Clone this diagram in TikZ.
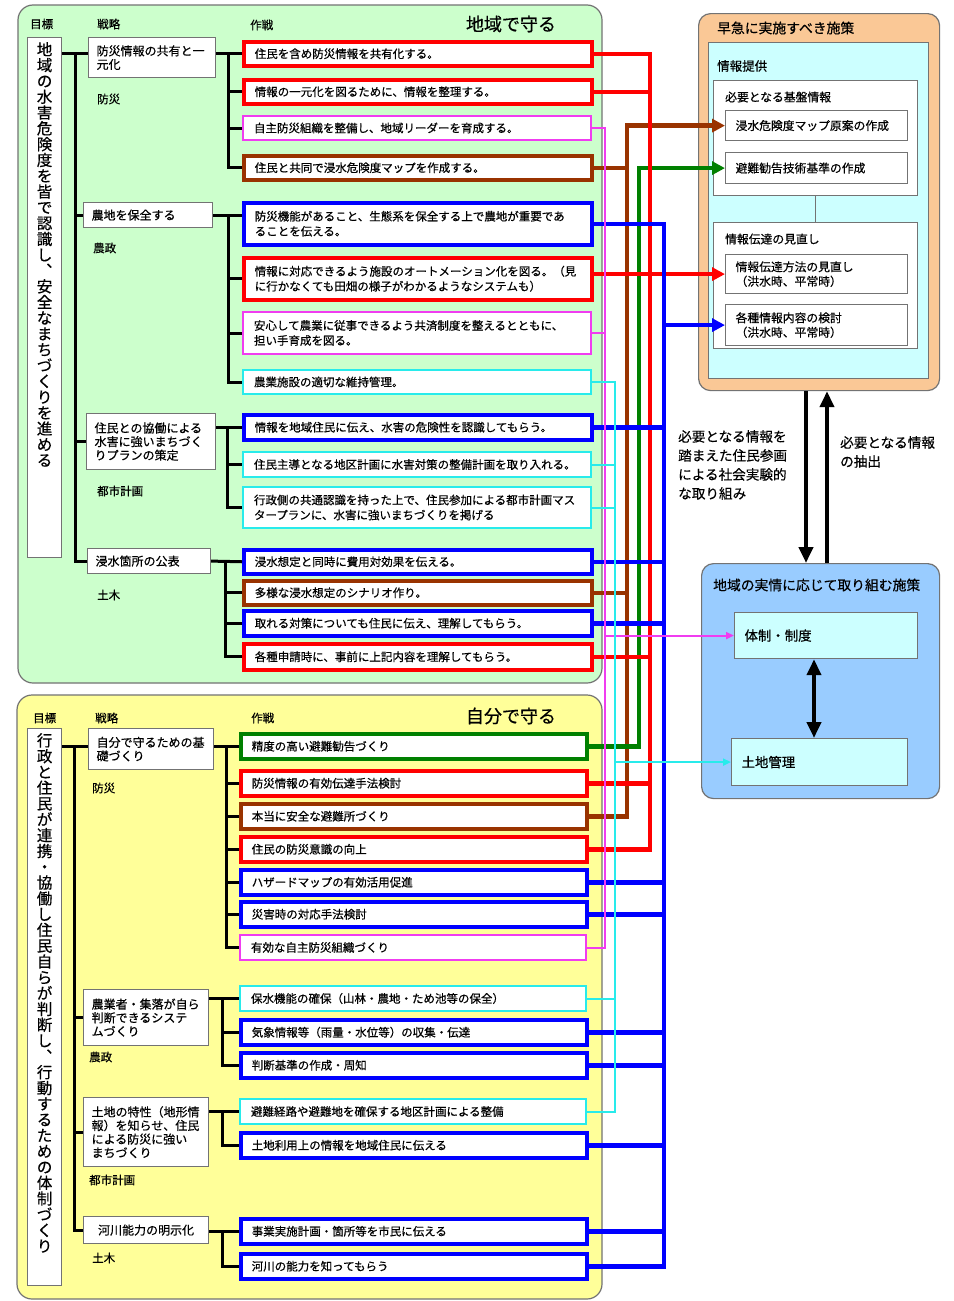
\documentclass[tikz,border=0pt]{standalone}
\usepackage{fontspec}
\setmainfont{Noto Sans CJK JP}[FakeBold=0.5]
\usetikzlibrary{arrows.meta}
\definecolor{pgreen}{RGB}{204,255,204}
\definecolor{pyellow}{RGB}{255,255,153}
\definecolor{porange}{RGB}{250,200,150}
\definecolor{plcyan}{RGB}{204,255,255}
\definecolor{pblue}{RGB}{153,204,255}
\definecolor{cred}{RGB}{255,0,0}
\definecolor{cblue}{RGB}{0,0,255}
\definecolor{cbrown}{RGB}{153,51,0}
\definecolor{cgreen}{RGB}{0,128,0}
\definecolor{cmag}{RGB}{240,60,240}
\definecolor{ccyan}{RGB}{40,235,235}
\definecolor{gline}{RGB}{115,115,115}
\newcommand\jtask{\fontsize{11.5}{15}\selectfont}
\newcommand\jstrat{\fontsize{12}{13.6}\selectfont}
\newcommand\jlab{\fontsize{11.5}{13}\selectfont}
\newcommand\jbig{\fontsize{18}{20}\selectfont}
\newcommand\jvert{\fontsize{15.5}{15.8}\selectfont}
\newcommand\jrt{\fontsize{13.8}{16}\selectfont}
\newcommand\jrs{\fontsize{11.8}{14.5}\selectfont}
\newcommand\jmid{\fontsize{13.6}{19}\selectfont}
\begin{document}
\begin{tikzpicture}[x=1pt,y=-1pt,
  panel/.style={draw=gline, line width=1.2pt, rounded corners=15pt},
  hdr/.style={anchor=west, inner sep=0pt, font=\jlab},
  lab/.style={anchor=west, inner sep=0pt, font=\jlab},
  goalbox/.style={draw=gline, fill=white, line width=1.2pt, anchor=north west, minimum width=34pt, inner sep=0pt},
  vtxt/.style={anchor=north, align=center, inner sep=0pt, font=\jvert},
  strat/.style={draw=gline, fill=white, line width=1.2pt, anchor=north west, align=left, inner xsep=8pt, inner ysep=0pt, font=\jstrat},
  task/.style={fill=white, anchor=north west, minimum width=348pt, text width=326pt, inner xsep=11pt, inner ysep=0pt, minimum height=24pt, align=left, font=\jtask},
  ltask/.style={task, minimum width=346pt, text width=324pt, minimum height=25pt},
  cR/.style={draw=cred, line width=3.5pt},
  cB/.style={draw=cblue, line width=3.5pt},
  cBr/.style={draw=cbrown, line width=3.5pt},
  cG/.style={draw=cgreen, line width=3.5pt},
  cM/.style={draw=cmag, line width=2pt},
  cC/.style={draw=ccyan, line width=2pt},
  tree/.style={draw=black, line width=3pt},
  busR/.style={draw=cred, line width=4.5pt},
  busB/.style={draw=cblue, line width=4.5pt},
  busBr/.style={draw=cbrown, line width=4.5pt},
  busG/.style={draw=cgreen, line width=4.5pt},
  busM/.style={draw=cmag, line width=2pt},
  busC/.style={draw=ccyan, line width=2pt},
  tipL/.style={-{Triangle[length=13pt,width=13pt]}},
  tipS/.style={-{Triangle[length=8pt,width=7pt]}},
  rbox/.style={draw=gline, line width=1.2pt, anchor=north west, inner sep=0pt},
  sbox/.style={draw=gline, fill=white, line width=1.2pt, anchor=north west, align=left, inner xsep=10pt, inner ysep=0pt, font=\jrs},
  rtxt/.style={anchor=west, inner sep=0pt},
  bigarr/.style={draw=black, line width=4pt, -{Triangle[length=16pt,width=14pt]}},
  dblarr/.style={draw=black, line width=4pt, {Triangle[length=16pt,width=14pt]}-{Triangle[length=16pt,width=14pt]}}
]
\fill[white] (0,0) rectangle (953,1301);
\useasboundingbox (0,0) rectangle (953,1301);

% panels
\draw[panel, fill=pgreen] (18,5) rectangle (602,683);
\draw[panel, fill=pyellow] (17,695) rectangle (602,1299);

% headers upper
\node[hdr] (h1) at (30,24) {目標};
\node[hdr] (h2) at (97,24) {戦略};
\node[hdr] (h3) at (250,25) {作戦};
\node[anchor=center, inner sep=0pt, font=\jbig] (h4) at (511,24) {地域で守る};
% headers lower
\node[hdr] (h5) at (33,718) {目標};
\node[hdr] (h6) at (95,718) {戦略};
\node[hdr] (h7) at (251,718) {作戦};
\node[anchor=center, inner sep=0pt, font=\jbig] (h8) at (511,716) {自分で守る};

% goal boxes
\node[goalbox, minimum height=520pt] (G1) at (27,37) {};
\node[vtxt] (G1t) at ([yshift=-5pt]G1.north) {地\\域\\の\\水\\害\\危\\険\\度\\を\\皆\\で\\認\\識\\し\\︑\\安\\全\\な\\ま\\ち\\づ\\く\\り\\を\\進\\め\\る};
\node[goalbox, minimum height=557pt] (G2) at (27,728) {};
\node[vtxt] (G2t) at ([yshift=-5pt]G2.north) {行\\政\\と\\住\\民\\が\\連\\携\\・\\協\\働\\し\\住\\民\\自\\ら\\が\\判\\断\\し\\︑\\行\\動\\す\\る\\た\\め\\の\\体\\制\\づ\\く\\り};

% strategy boxes upper
\node[strat, minimum width=127pt, text width=111pt, minimum height=40pt] (S1) at (88,37) {防災情報の共有と一\\元化};
\node[strat, minimum width=129pt, text width=113pt, minimum height=25pt] (S2) at (83,202) {農地を保全する};
\node[strat, minimum width=129pt, text width=113pt, minimum height=56pt] (S3) at (86,413) {住民との協働による\\水害に強いまちづく\\りプランの策定};
\node[strat, minimum width=123pt, text width=107pt, minimum height=25pt] (S4) at (87,548) {浸水箇所の公表};
\node[lab] (l1) at (97,99) {防災};
\node[lab] (l2) at (93,248) {農政};
\node[lab] (l3) at (97,491) {都市計画};
\node[lab] (l4) at (97,595) {土木};

% strategy boxes lower
\node[strat, minimum width=125pt, text width=109pt, minimum height=41pt] (S1L) at (88,728) {自分で守るための基\\礎づくり};
\node[strat, minimum width=125pt, text width=109pt, minimum height=56pt] (S2L) at (83,989) {農業者・集落が自ら\\判断できるシステ\\ムづくり};
\node[strat, minimum width=125pt, text width=109pt, minimum height=69pt] (S3L) at (83,1097) {土地の特性（地形情\\報）を知らせ、住民\\による防災に強い\\まちづくり};
\node[strat, minimum width=125pt, text width=109pt, minimum height=27pt, align=center] (S4L) at (83,1216) {河川能力の明示化};
\node[lab] (l5) at (92,788) {防災};
\node[lab] (l6) at (89,1057) {農政};
\node[lab] (l7) at (89,1180) {都市計画};
\node[lab] (l8) at (92,1258) {土木};

% tasks upper
\node[task, cR] (t1) at (242,40) {住民を含め防災情報を共有化する。};
\node[task, cR] (t2) at (242,78) {情報の一元化を図るために、情報を整理する。};
\node[task, cM] (t3) at (242,115) {自主防災組織を整備し、地域リーダーを育成する。};
\node[task, cBr] (t4) at (242,154) {住民と共同で浸水危険度マップを作成する。};
\node[task, cB, minimum height=42pt] (t5) at (242,201) {防災機能があること、生態系を保全する上で農地が重要であ\\ることを伝える。};
\node[task, cR, minimum height=42pt] (t6) at (242,256) {情報に対応できるよう施設のオートメーション化を図る。（見\\に行かなくても田畑の様子がわかるようなシステムも）};
\node[task, cM, minimum height=42pt] (t7) at (242,311) {安心して農業に従事できるよう共済制度を整えるとともに、\\担い手育成を図る。};
\node[task, cC] (t8) at (242,369) {農業施設の適切な維持管理。};
\node[task, cB, minimum height=25pt] (t9) at (242,413) {情報を地域住民に伝え、水害の危険性を認識してもらう。};
\node[task, cC, minimum height=25pt] (t10) at (242,451) {住民主導となる地区計画に水害対策の整備計画を取り入れる。};
\node[task, cC, minimum height=41pt] (t11) at (242,486) {行政側の共通認識を持った上で、住民参加による都市計画マス\\タープランに、水害に強いまちづくりを掲げる};
\node[task, cB] (t12) at (242,548) {浸水想定と同時に費用対効果を伝える。};
\node[task, cBr] (t13) at (242,579) {多様な浸水想定のシナリオ作り。};
\node[task, cB, minimum height=25pt] (t14) at (242,609) {取れる対策についても住民に伝え、理解してもらう。};
\node[task, cR, minimum height=26pt] (t15) at (242,642) {各種申請時に、事前に上記内容を理解してもらう。};

% tasks lower
\node[ltask, cG] (L1) at (239,732) {精度の高い避難勧告づくり};
\node[ltask, cR] (L2) at (239,769) {防災情報の有効伝達手法検討};
\node[ltask, cBr] (L3) at (239,802) {本当に安全な避難所づくり};
\node[ltask, cR] (L4) at (239,835) {住民の防災意識の向上};
\node[ltask, cB] (L5) at (239,868) {ハザードマップの有効活用促進};
\node[ltask, cB] (L6) at (239,900) {災害時の対応手法検討};
\node[ltask, cM] (L7) at (239,934) {有効な自主防災組織づくり};
\node[ltask, cC] (L8) at (239,985) {保水機能の確保（山林・農地・ため池等の保全）};
\node[ltask, cB] (L9) at (239,1018) {気象情報等（雨量・水位等）の収集・伝達};
\node[ltask, cB] (L10) at (239,1051) {判断基準の作成・周知};
\node[ltask, cC] (L11) at (239,1098) {避難経路や避難地を確保する地区計画による整備};
\node[ltask, cB] (L12) at (239,1131) {土地利用上の情報を地域住民に伝える};
\node[ltask, cB] (L13) at (239,1217) {事業実施計画・箇所等を市民に伝える};
\node[ltask, cB] (L14) at (239,1252) {河川の能力を知ってもらう};

% tree lines upper
\coordinate (k1) at (75,0);
\coordinate (b1) at (228,0);
\coordinate (b2) at (228,0);
\coordinate (b3) at (227,0);
\coordinate (b4) at (225,0);
\draw[tree] (G1.east |- t1.west) -- (S1.west |- t1.west);
\draw[tree] (t1.west -| k1) |- (S4.west);
\draw[tree] (S2.west -| k1) -- (S2.west);
\draw[tree] (S3.west -| k1) -- (S3.west);
\draw[tree] (S1.east |- t1.west) -- (t1.west);
\draw[tree] (t1.west -| b1) |- (t4.west);
\foreach \n in {t2,t3} {\draw[tree] (\n.west -| b1) -- (\n.west);}
\draw[tree] (S2.east) -- (S2.east -| t5.west);
\draw[tree] (S2.east -| b2) |- (t8.west);
\foreach \n in {t6,t7} {\draw[tree] (\n.west -| b2) -- (\n.west);}
\draw[tree] (S3.east |- t9.west) -- (t9.west);
\draw[tree] (t9.west -| b3) |- (t11.west);
\draw[tree] (t10.west -| b3) -- (t10.west);
\draw[tree] (S4.east) -- (t12.west);
\draw[tree] (t12.west -| b4) |- (t15.west);
\foreach \n in {t13,t14} {\draw[tree] (\n.west -| b4) -- (\n.west);}

% tree lines lower
\coordinate (k2) at (74,0);
\coordinate (b5) at (226,0);
\coordinate (b6) at (222,0);
\draw[tree] (G2.east |- L1.west) -- (S1L.west |- L1.west);
\draw[tree] (L1.west -| k2) |- (S4L.west);
\draw[tree] (S2L.west -| k2) -- (S2L.west);
\draw[tree] (S3L.west -| k2) -- (S3L.west);
\draw[tree] (S1L.east |- L1.west) -- (L1.west);
\draw[tree] (L1.west -| b5) |- (L7.west);
\foreach \n in {L2,L3,L4,L5,L6} {\draw[tree] (\n.west -| b5) -- (\n.west);}
\draw[tree] (S2L.east |- L8.west) -- (L8.west);
\draw[tree] (L8.west -| b6) |- (L10.west);
\draw[tree] (L9.west -| b6) -- (L9.west);
\draw[tree] (S3L.east |- L11.west) -- (L11.west);
\draw[tree] (L11.west -| b6) |- (L12.west);
\draw[tree] (S4L.east |- L13.west) -- (L13.west);
\draw[tree] (L13.west -| b6) |- (L14.west);

% right: orange box
\node[rbox, fill=porange, rounded corners=12pt, minimum width=241pt, minimum height=377pt] (OB) at (698,13) {};
\node[rtxt, font=\jrt] (OBt) at (717,28) {早急に実施すべき施策};
\node[rbox, fill=plcyan, minimum width=220pt, minimum height=336pt] (LC) at (708,42) {};
\node[rtxt, font=\fontsize{12.5}{14}\selectfont] (LCt) at (717,66) {情報提供};
\node[rbox, fill=white, minimum width=204pt, minimum height=115pt] (A) at (713,80) {};
\node[rtxt, font=\jrs] (At) at (725,97) {必要となる基盤情報};
\node[sbox, minimum width=182pt, text width=162pt, minimum height=30pt] (A1) at (725,110) {浸水危険度マップ原案の作成};
\node[sbox, minimum width=182pt, text width=162pt, minimum height=31pt] (A2) at (725,152) {避難勧告技術基準の作成};
\node[rbox, fill=white, minimum width=204pt, minimum height=126pt] (B) at (713,222) {};
\node[rtxt, font=\jrs] (Bt) at (725,239) {情報伝達の見直し};
\node[sbox, minimum width=182pt, text width=162pt, minimum height=39pt] (B1) at (725,254) {情報伝達方法の見直し\\（洪水時、平常時）};
\node[sbox, minimum width=182pt, text width=162pt, minimum height=41pt] (B2) at (725,304) {各種情報内容の検討\\（洪水時、平常時）};
\draw[draw=gline, line width=1.5pt] (A.south) -- (B.north);

% middle texts
\node[anchor=north west, align=left, inner sep=0pt, font=\jmid] (ML) at (678,430) {必要となる情報を\\踏まえた住民参画\\による社会実験的\\な取り組み};
\node[anchor=north west, align=left, inner sep=0pt, font=\jmid] (MR) at (840,436) {必要となる情報\\の抽出};

% blue box
\node[rbox, fill=pblue, rounded corners=12pt, minimum width=238pt, minimum height=235pt] (BB) at (701,563) {};
\node[rtxt, font=\jrt] (BBt) at (713,585) {地域の実情に応じて取り組む施策};
\node[sbox, fill=plcyan, minimum width=183pt, text width=163pt, minimum height=46pt, font=\fontsize{13.4}{15}\selectfont] (T1) at (734,612) {体制・制度};
\node[sbox, fill=plcyan, minimum width=176pt, text width=156pt, minimum height=47pt, font=\fontsize{13.4}{15}\selectfont] (T2) at (731,738) {土地管理};

% big arrows
\coordinate (dnx) at (806,0);
\coordinate (upx) at (827,0);
\coordinate (dbx) at (814,0);
\draw[bigarr] (OB.south -| dnx) -- (BB.north -| dnx);
\draw[bigarr] (BB.north -| upx) -- (OB.south -| upx);
\draw[dblarr] (T1.south -| dbx) -- (T2.north -| dbx);

% buses
\coordinate (xM) at (605,0);
\coordinate (xC) at (615,0);
\coordinate (xBr) at (627,0);
\coordinate (xG) at (639,0);
\coordinate (xR) at (650,0);
\coordinate (xB) at (664,0);

\draw[busBr, tipL] (L3.east) -| (A1.west -| xBr) -- (A1.west);
\foreach \n in {t4,t13} {\draw[busBr] (\n.east) -- (\n.east -| xBr);}
\draw[busG, tipL] (L1.east) -| (A2.west -| xG) -- (A2.west);
\draw[busR] (t1.east) -| (L4.east -| xR) -- (L4.east);
\foreach \n in {t2,t15,L2} {\draw[busR] (\n.east) -- (\n.east -| xR);}
\draw[busR, tipL] (B1.west -| t6.east) -- (B1.west);
\draw[busB] (t5.east) -| (L14.east -| xB) -- (L14.east);
\foreach \n in {t9,t12,t14,L5,L6,L9,L10,L12,L13} {\draw[busB] (\n.east) -- (\n.east -| xB);}
\draw[busB, tipL] (B2.west -| xB) -- (B2.west);
\draw[busM] (t3.east) -| (L7.east -| xM) -- (L7.east);
\draw[busM] (t7.east) -- (t7.east -| xM);
\draw[busM, tipS] (T1.west -| xM) -- (T1.west);
\draw[busC] (t8.east) -| (L11.east -| xC) -- (L11.east);
\foreach \n in {t10,t11,L8} {\draw[busC] (\n.east) -- (\n.east -| xC);}
\draw[busC, tipS] (T2.west -| xC) -- (T2.west);
\end{tikzpicture}
\end{document}
